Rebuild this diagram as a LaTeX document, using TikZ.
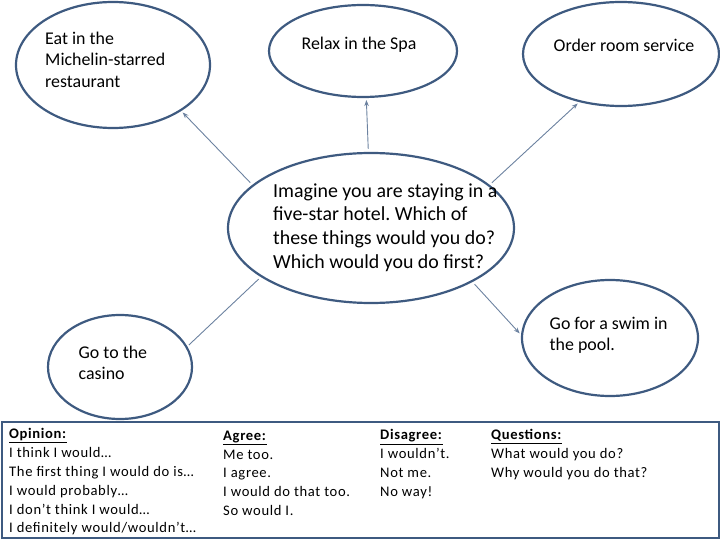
\documentclass[tikz,border=0pt]{standalone}
\usepackage{fontspec}
\setmainfont{Carlito}
\usetikzlibrary{arrows.meta,shapes.geometric}

\definecolor{rim}{RGB}{62,90,128}
\definecolor{linkc}{RGB}{108,130,160}
\frenchspacing

\begin{document}
\begin{tikzpicture}[x=1pt, y=-1pt, >={Stealth[length=6pt,width=4.5pt]},
    bubble/.style={ellipse, draw=rim, line width=2.2pt, inner sep=0pt},
    conn/.style={draw=linkc, line width=0.9pt, shorten <=3pt, shorten >=2pt},
    txt/.style={inner sep=0pt, align=left, font=\fontsize{17.9}{21.6}\selectfont},
    phrase/.style={inner sep=0pt, align=left, anchor=north west,
        font=\fontsize{14.6}{18.9}\selectfont\addfontfeatures{LetterSpace=4.5}}]
    \useasboundingbox (0,0) rectangle (720,540);
    % bubbles
    \node[bubble, minimum width=194pt, minimum height=126pt] (eat) at (113,65) {};
    \node[bubble, minimum width=188pt, minimum height=92pt] (spa) at (363,51) {};
    \node[bubble, minimum width=196pt, minimum height=104pt] (room) at (621,54) {};
    \node[bubble, minimum width=286pt, minimum height=150pt] (main) at (371,228) {};
    \node[bubble, minimum width=144pt, minimum height=104pt] (casino) at (120,367) {};
    \node[bubble, minimum width=176pt, minimum height=116pt] (pool) at (610,338) {};
    % texts
    \node[txt, anchor=north west] (eattext) at (45,31.5) {Eat in the\\Michelin-starred\\restaurant};
    \node[txt, anchor=base] (spatext) at (359,49.5) {Relax in the Spa};
    \node[txt, anchor=base] (roomtext) at (624,52) {Order room service};
    \node[txt, anchor=north west, font=\fontsize{19.9}{23.6}\selectfont] (maintext) at (273,183.5)
        {Imagine you are staying in a\\five-star hotel. Which of\\these things would you do?\\Which would you do first?};
    \node[txt, anchor=north west] (casinotext) at (78.5,345.5) {Go to the\\casino};
    \node[txt, anchor=north west] (pooltext) at (549.5,316.5) {Go for a swim in\\the pool.};
    % connectors
    \draw[conn, ->] (main.160) -- (eat.-34);
    \draw[conn, ->] (main.92) -- (spa.-86);
    \draw[conn, ->] (main.20) -- (room.-131);
    \draw[conn, ->] (main.-28) -- (pool.178);
    \draw[conn] (main.-156) -- (casino.17);
    % phrase box
    \draw[rim, line width=1.8pt] (2,422) rectangle (719,538);
    \node[phrase] (opinion) at (9,428) {\underline{\textbf{Opinion:}}\\I think I would…\\The first thing I would do is…\\I would probably…\\I don’t think I would…\\I definitely would/wouldn’t…};
    \node[phrase] (agree) at (223,430.5) {\underline{\textbf{Agree:}}\\Me too.\\I agree.\\I would do that too.\\So would I.};
    \node[phrase] (disagree) at (380,429.5) {\underline{\textbf{Disagree:}}\\I wouldn’t.\\Not me.\\No way!};
    \node[phrase] (questions) at (491,429.5) {\underline{\textbf{Questions:}}\\What would you do?\\Why would you do that?};
\end{tikzpicture}
\end{document}
